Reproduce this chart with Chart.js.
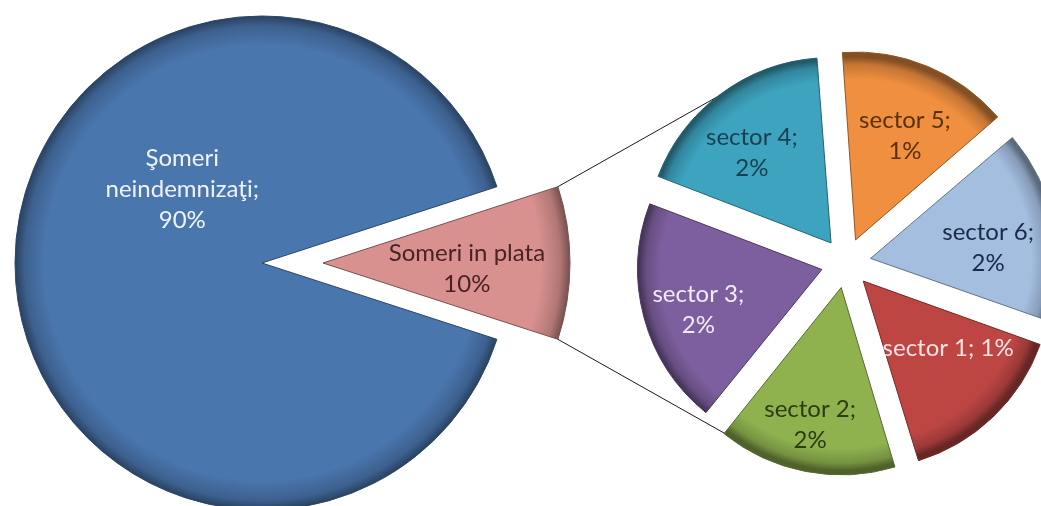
<!DOCTYPE html>
<html>
<head>
<meta charset="utf-8">
<script src="https://cdn.jsdelivr.net/npm/chart.js@4"></script>
<style>
html, body { margin: 0; padding: 0; background: #ffffff; overflow: hidden; }
#wrap { position: relative; width: 1041px; height: 506px; }
#wrap canvas { position: absolute; left: 0; top: 0; }
</style>
</head>
<body>
<div id="wrap">
  <canvas id="cMain" width="1041" height="506"></canvas>
  <canvas id="cSplit" width="1041" height="506"></canvas>
  <canvas id="cSub" width="1041" height="506"></canvas>
</div>
<script>
// ---------- data ----------
const mainCategories = ['Şomeri neindemnizaţi', 'Someri in plata'];
const mainValues = [90, 10];
const mainLabelNames = [['Şomeri', 'neindemnizaţi;'], ['Someri in plata']];

const subCategories = ['sector 1', 'sector 2', 'sector 3', 'sector 4', 'sector 5', 'sector 6'];
const subValues = [1.49, 1.55, 2.0, 1.8, 1.49, 1.67];
const subLabelInline = [true, false, false, false, false, false];

// ---------- styles ----------
const mainColors = ['#4A76AE', '#D8918F'];
const mainTextColors = ['#EEF3FA', '#4A2222'];
const subColors = ['#BD4643', '#8FB24F', '#7D5F9F', '#3DA3BF', '#EF8F3F', '#A4BEE0'];
const subTextColors = ['#FBE3E3', '#2D3B12', '#F1EAF8', '#183F50', '#5A3008', '#18294B'];
const FONT_FAMILY = 'Lato, "Open Sans", "DejaVu Sans", sans-serif';
const FONT_SIZE = 24;

const mainRadius = 247;
const subRadius = 183;
const subExplode = 25;       // pixels each sector of the second pie is pulled out

const total = mainValues.reduce((a, b) => a + b, 0);
const pct = v => Math.round(v / total * 100) + '%';

const mainLines = mainValues.map((v, i) => [...mainLabelNames[i], pct(v)]);
const subLines = subValues.map((v, i) =>
  subLabelInline[i] ? [subCategories[i] + '; ' + pct(v)] : [subCategories[i] + ';', pct(v)]);

// Blue slice starts right after the half of the exploded slice (which points right)
const mainRotation = 90 + (mainValues[1] / total * 360) / 2;
const subRotation = 109.5;

// ---------- helpers ----------
function shade(hex, f) {
  const n = parseInt(hex.slice(1), 16);
  const r = Math.round(((n >> 16) & 255) * f);
  const g = Math.round(((n >> 8) & 255) * f);
  const b = Math.round((n & 255) * f);
  return `rgb(${r},${g},${b})`;
}
function rimFill(colors, radius, visible) {
  return (c) => {
    if (!visible[c.dataIndex]) return 'rgba(0,0,0,0)';
    const base = colors[c.dataIndex];
    const a = c.chart.chartArea;
    if (!a) return base;
    const cx = (a.left + a.right) / 2, cy = (a.top + a.bottom) / 2;
    const g = c.chart.ctx.createRadialGradient(cx, cy, 0, cx, cy, radius);
    g.addColorStop(0, shade(base, 1.0));
    g.addColorStop(0.88, base);
    g.addColorStop(0.96, shade(base, 0.82));
    g.addColorStop(1, shade(base, 0.55));
    return g;
  };
}

const sliceLabels = {
  id: 'sliceLabels',
  afterDatasetsDraw(chart, args, opts) {
    const meta = chart.getDatasetMeta(0);
    const ctx = chart.ctx;
    ctx.save();
    ctx.font = `${opts.size}px ${opts.family}`;
    ctx.textAlign = 'center';
    ctx.textBaseline = 'middle';
    meta.data.forEach((arc, i) => {
      const lines = opts.lines[i];
      if (!lines) return;
      const p = arc.getProps(['x', 'y', 'startAngle', 'endAngle', 'outerRadius'], true);
      const mid = (p.startAngle + p.endAngle) / 2;
      const ang = mid + ((opts.angleShift && opts.angleShift[i]) || 0) * Math.PI / 180;
      const frac = Array.isArray(opts.frac) ? opts.frac[i] : opts.frac;
      const ex = opts.explode || 0;
      const lx = p.x + Math.cos(mid) * ex + Math.cos(ang) * frac * p.outerRadius;
      const ly = p.y + Math.sin(mid) * ex + Math.sin(ang) * frac * p.outerRadius;
      ctx.fillStyle = opts.colors[i];
      const lh = opts.lineHeight;
      lines.forEach((t, k) => {
        ctx.fillText(t, lx, ly + (k - (lines.length - 1) / 2) * lh);
      });
    });
    ctx.restore();
  }
};

function baseOptions(padding, extraPlugins) {
  return {
    responsive: false,
    animation: false,
    devicePixelRatio: 1,
    events: [],
    layout: { padding },
    plugins: Object.assign({ legend: { display: false }, tooltip: { enabled: false } }, extraPlugins)
  };
}

// ---------- first pie (without the split slice) ----------
const mainChart = new Chart(document.getElementById('cMain'), {
  type: 'pie',
  data: {
    labels: mainCategories,
    datasets: [{
      data: mainValues,
      radius: mainRadius,
      clip: false,
      backgroundColor: rimFill(mainColors, mainRadius, [true, false]),
      borderColor: c => c.dataIndex === 0 ? shade(mainColors[0], 0.6) : 'rgba(0,0,0,0)',
      borderWidth: c => c.dataIndex === 0 ? 1 : 0
    }]
  },
  options: Object.assign(baseOptions({ left: 0, right: 517, top: 20, bottom: 0 }, {
    sliceLabels: {
      lines: [mainLines[0], null], colors: mainTextColors,
      frac: 0.44, angleShift: [42.8, 0],
      size: FONT_SIZE, family: FONT_FAMILY, lineHeight: 31
    }
  }), { rotation: mainRotation }),
  plugins: [sliceLabels]
});

// ---------- split slice, pulled out to the right ----------
const splitChart = new Chart(document.getElementById('cSplit'), {
  type: 'pie',
  data: {
    labels: mainCategories,
    datasets: [{
      data: mainValues,
      radius: mainRadius,
      clip: false,
      backgroundColor: rimFill(mainColors, mainRadius, [false, true]),
      borderColor: c => c.dataIndex === 1 ? shade(mainColors[1], 0.55) : 'rgba(0,0,0,0)',
      borderWidth: c => c.dataIndex === 1 ? 1 : 0
    }]
  },
  options: Object.assign(baseOptions({ left: 0, right: 395, top: 20, bottom: 0 }, {
    sliceLabels: {
      lines: [null, mainLines[1]], colors: mainTextColors,
      frac: 0.583, angleShift: [0, 2.2],
      size: FONT_SIZE, family: FONT_FAMILY, lineHeight: 31
    }
  }), { rotation: mainRotation }),
  plugins: [sliceLabels]
});

// ---------- connector lines ----------
const connectors = {
  id: 'connectors',
  beforeDatasetsDraw(chart) {
    const src = splitChart.getDatasetMeta(0).data[1];
    const sp = src.getProps(['x', 'y', 'startAngle', 'endAngle', 'outerRadius'], true);
    const first = chart.getDatasetMeta(0).data[0];
    const cx = first.x, cy = first.y;
    const R = first.outerRadius + subExplode;
    const ctx = chart.ctx;
    ctx.save();
    ctx.strokeStyle = '#1a1a1a';
    ctx.lineWidth = 1;
    [[sp.startAngle, -1], [sp.endAngle, 1]].forEach(([a, side]) => {
      const px = sp.x + sp.outerRadius * Math.cos(a);
      const py = sp.y + sp.outerRadius * Math.sin(a);
      const dx = cx - px, dy = cy - py;
      const D = Math.hypot(dx, dy);
      const base = Math.atan2(dy, dx);
      const h = Math.asin(Math.min(1, R / D));
      const L = Math.sqrt(Math.max(0, D * D - R * R));
      const dir = base + side * h;
      ctx.beginPath();
      ctx.moveTo(px, py);
      ctx.lineTo(px + L * Math.cos(dir), py + L * Math.sin(dir));
      ctx.stroke();
    });
    ctx.restore();
  }
};

// ---------- second pie ----------
const subChart = new Chart(document.getElementById('cSub'), {
  type: 'pie',
  data: {
    labels: subCategories,
    datasets: [{
      data: subValues,
      radius: subRadius,
      clip: false,
      offset: subExplode * 4,
      backgroundColor: rimFill(subColors, subRadius, subColors.map(() => true)),
      borderColor: c => shade(subColors[c.dataIndex], 0.6),
      borderWidth: 1
    }]
  },
  options: Object.assign(baseOptions({ left: 651, right: 0, top: 20, bottom: 0 }, {
    sliceLabels: {
      lines: subLines, colors: subTextColors,
      frac: [0.59, 0.77, 0.71, 0.656, 0.628, 0.645],
      angleShift: [-8.1, 1.7, -3.0, -4.6, 2.9, 5.5],
      explode: subExplode,
      size: FONT_SIZE, family: FONT_FAMILY, lineHeight: 31
    }
  }), { rotation: subRotation }),
  plugins: [connectors, sliceLabels]
});
</script>
</body>
</html>
